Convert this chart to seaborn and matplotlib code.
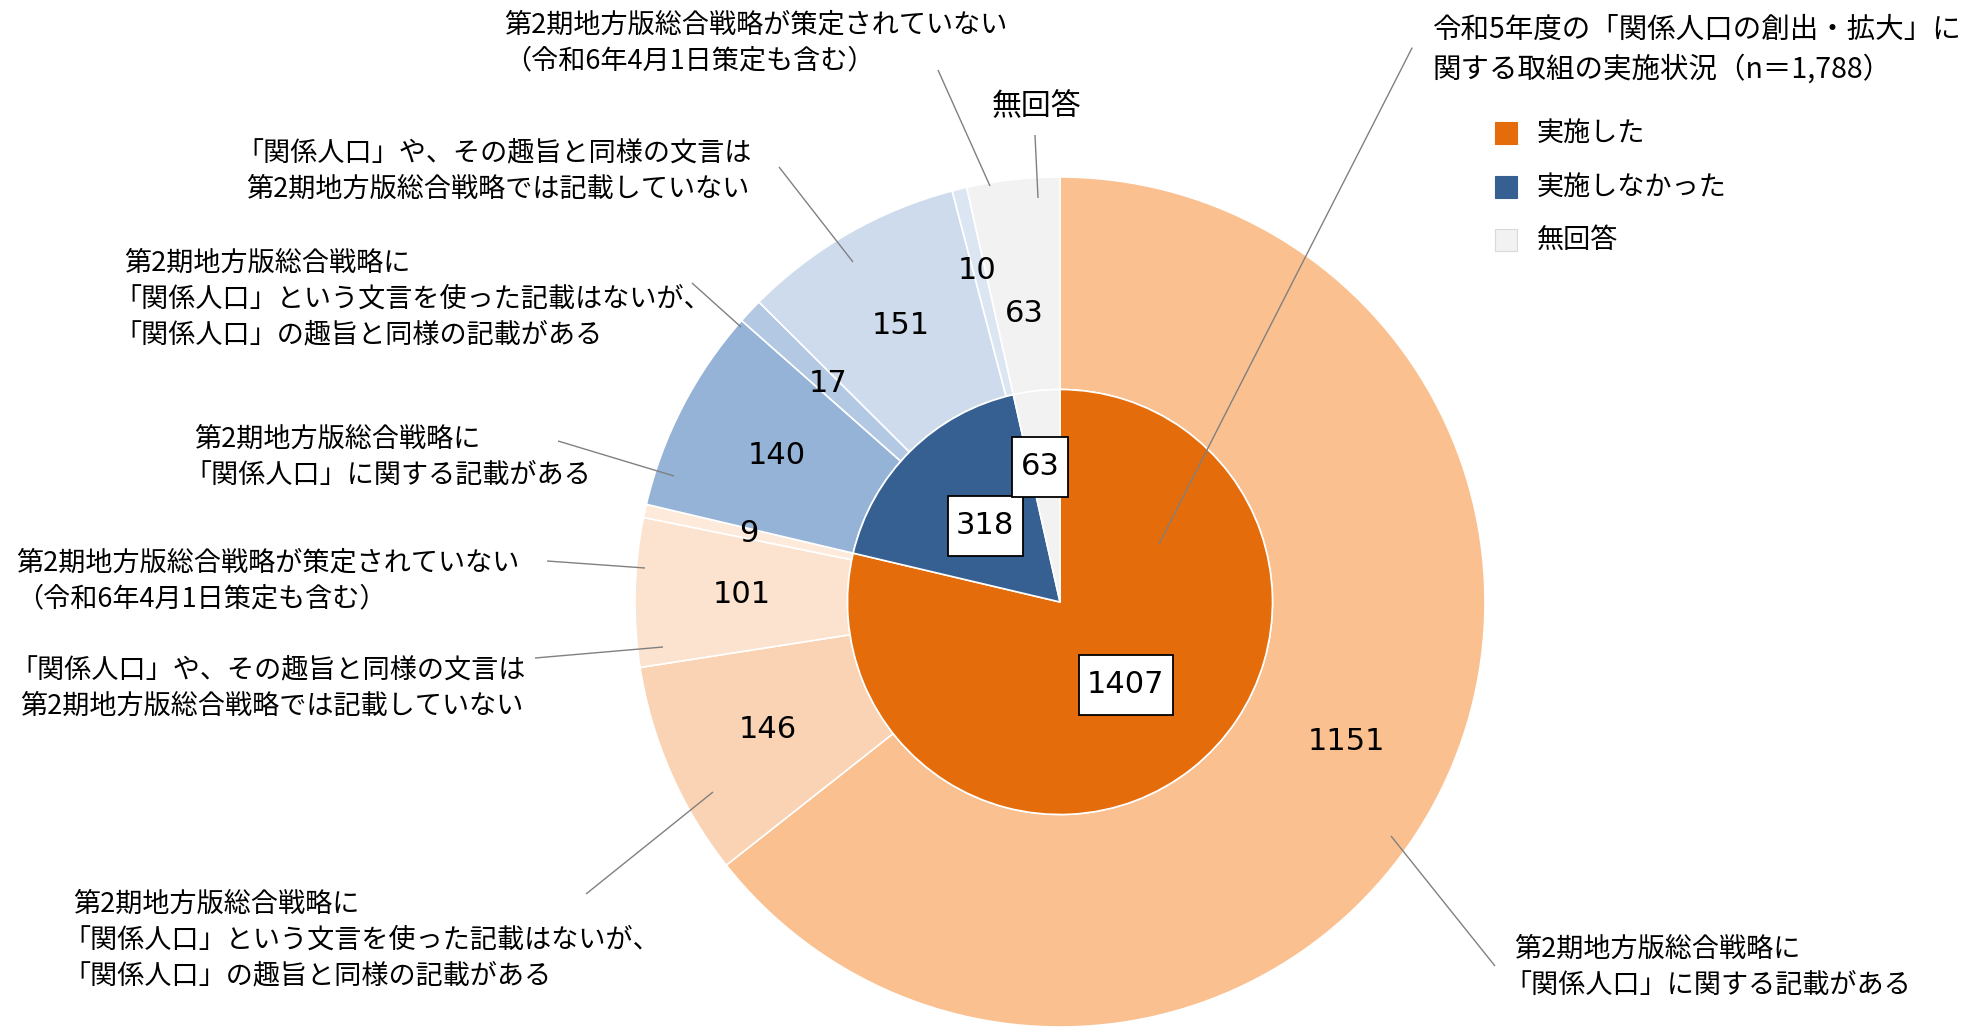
import matplotlib
matplotlib.use("Agg")
import matplotlib.pyplot as plt
from matplotlib.patches import Rectangle
import seaborn as sns
import numpy as np

# ---------------- data ----------------
inner_labels = ["実施した", "実施しなかった", "無回答"]
inner_values = [1407, 318, 63]

outer_values = [1151, 146, 101, 9, 140, 17, 151, 10, 63]
outer_names = [
    "第2期地方版総合戦略に\n「関係人口」に関する記載がある",
    "第2期地方版総合戦略に\n「関係人口」という文言を使った記載はないが、\n「関係人口」の趣旨と同様の記載がある",
    "「関係人口」や、その趣旨と同様の文言は\n第2期地方版総合戦略では記載していない",
    "第2期地方版総合戦略が策定されていない\n（令和6年4月1日策定も含む）",
    "第2期地方版総合戦略に\n「関係人口」に関する記載がある",
    "第2期地方版総合戦略に\n「関係人口」という文言を使った記載はないが、\n「関係人口」の趣旨と同様の記載がある",
    "「関係人口」や、その趣旨と同様の文言は\n第2期地方版総合戦略では記載していない",
    "第2期地方版総合戦略が策定されていない\n（令和6年4月1日策定も含む）",
    "無回答",
]
title_lines = ["令和5年度の「関係人口の創出・拡大」に", "関する取組の実施状況（n＝1,788）"]

# ---------------- style ----------------
inner_colors = ["#E46C0A", "#376092", "#F2F2F2"]
outer_colors = ["#FAC090", "#F9D3B3", "#FCE3D0", "#FDEADB",
                "#95B3D7", "#B3C8E2", "#CEDBEC", "#DCE6F2", "#F2F2F2"]

W, H = 1965, 1028
CX, CY = 1060, 602      # pixel position of pie centre
R = 425                 # outer radius in pixels

sns.set_theme(style="white")
plt.rcParams["font.family"] = ["Noto Sans CJK JP", "DejaVu Sans"]

fig = plt.figure(figsize=(W / 100, H / 100), dpi=100)
ax = fig.add_axes([0, 0, 1, 1])


def Y(y):
    return H - y


outer_w, _ = ax.pie(outer_values, colors=outer_colors, radius=R, center=(CX, Y(CY)),
                    startangle=90, counterclock=False,
                    wedgeprops=dict(width=R / 2, edgecolor="white", linewidth=1.2))
inner_w, _ = ax.pie(inner_values, colors=inner_colors, radius=R / 2, center=(CX, Y(CY)),
                    startangle=90, counterclock=False,
                    wedgeprops=dict(edgecolor="white", linewidth=1.2))
ax.set_xlim(0, W)
ax.set_ylim(0, H)
ax.set_aspect("equal")
ax.axis("off")


def mid(w, r):
    th = np.deg2rad((w.theta1 + w.theta2) / 2)
    return w.center[0] + r * np.cos(th), w.center[1] + r * np.sin(th)


NUM_FONT = dict(family="DejaVu Sans", fontsize=22, color="black", ha="center", va="center")

# outer ring values
outer_offsets = {7: (-7, 22), 8: (0, -28)}
for i, (w, v) in enumerate(zip(outer_w, outer_values)):
    x, y = mid(w, 0.75 * R)
    dx, dy = outer_offsets.get(i, (0, 0))
    ax.text(x + dx, y + dy, f"{v}", zorder=5, **NUM_FONT)

# inner pie values (boxed)
inner_offsets = {2: (-8, 29)}
for i, (w, v) in enumerate(zip(inner_w, inner_values)):
    x, y = mid(w, 0.25 * R)
    dx, dy = inner_offsets.get(i, (0, 0))
    s = f"{v}"
    bw, bh = 19 * len(s) + 18, 60
    ax.add_patch(Rectangle((x + dx - bw / 2, y + dy - bh / 2), bw, bh,
                           facecolor="white", edgecolor="black", lw=1.3, zorder=4))
    ax.text(x + dx, y + dy + 1, s, zorder=5, **NUM_FONT)

# category labels with leader lines (pixel layout)
LBL_FS = 19.5
LINE_GAP = 36
label_layout = [
    # (x_left, y_first_line, (x1, y1, x2, y2) leader)
    (1514, 949, (1391, 836, 1495, 966)),
    (73, 904, (713, 792, 586, 894)),
    (20, 670, (663, 647, 535, 658)),
    (16, 563, (645, 568, 547, 561)),
    (194, 439, (674, 476, 558, 441)),
    (124, 263, (741, 327, 692, 283)),
    (246, 153, (853, 262, 779, 167)),
    (504, 25, (990, 186, 938, 70)),
    (None, 107, (1038, 198, 1035, 135)),
]
lead_color = "#808080"
for name, (lx, ly, (x1, y1, x2, y2)) in zip(outer_names, label_layout):
    ax.plot([x1, x2], [Y(y1), Y(y2)], color=lead_color, lw=1.0, solid_capstyle="butt")
    for k, line in enumerate(name.split("\n")):
        if lx is None:
            ax.text(1037, Y(ly), line, fontsize=21.5, ha="center", va="center", color="black")
        else:
            xx = lx - (10 if line.startswith("「") else 0)
            ax.text(xx, Y(ly + k * LINE_GAP), line, fontsize=LBL_FS,
                    ha="left", va="center", color="black")

# title with leader to inner wedge
ax.plot([1159, 1412], [Y(544), Y(48)], color=lead_color, lw=1.0)
for k, line in enumerate(title_lines):
    ax.text(1432, Y(30 + k * 40), line, fontsize=20.5, ha="left", va="center", color="black")

# legend
leg_y = [133, 187, 240]
for c, lab, ly in zip(inner_colors, inner_labels, leg_y):
    ax.add_patch(Rectangle((1495, Y(ly) - 11), 22, 22, facecolor=c,
                           edgecolor="#D9D9D9" if c == "#F2F2F2" else c, lw=0.8))
    ax.text(1537, Y(ly), lab, fontsize=19.5, ha="left", va="center", color="black")

fig.savefig("out.png", dpi=100, facecolor="white")
